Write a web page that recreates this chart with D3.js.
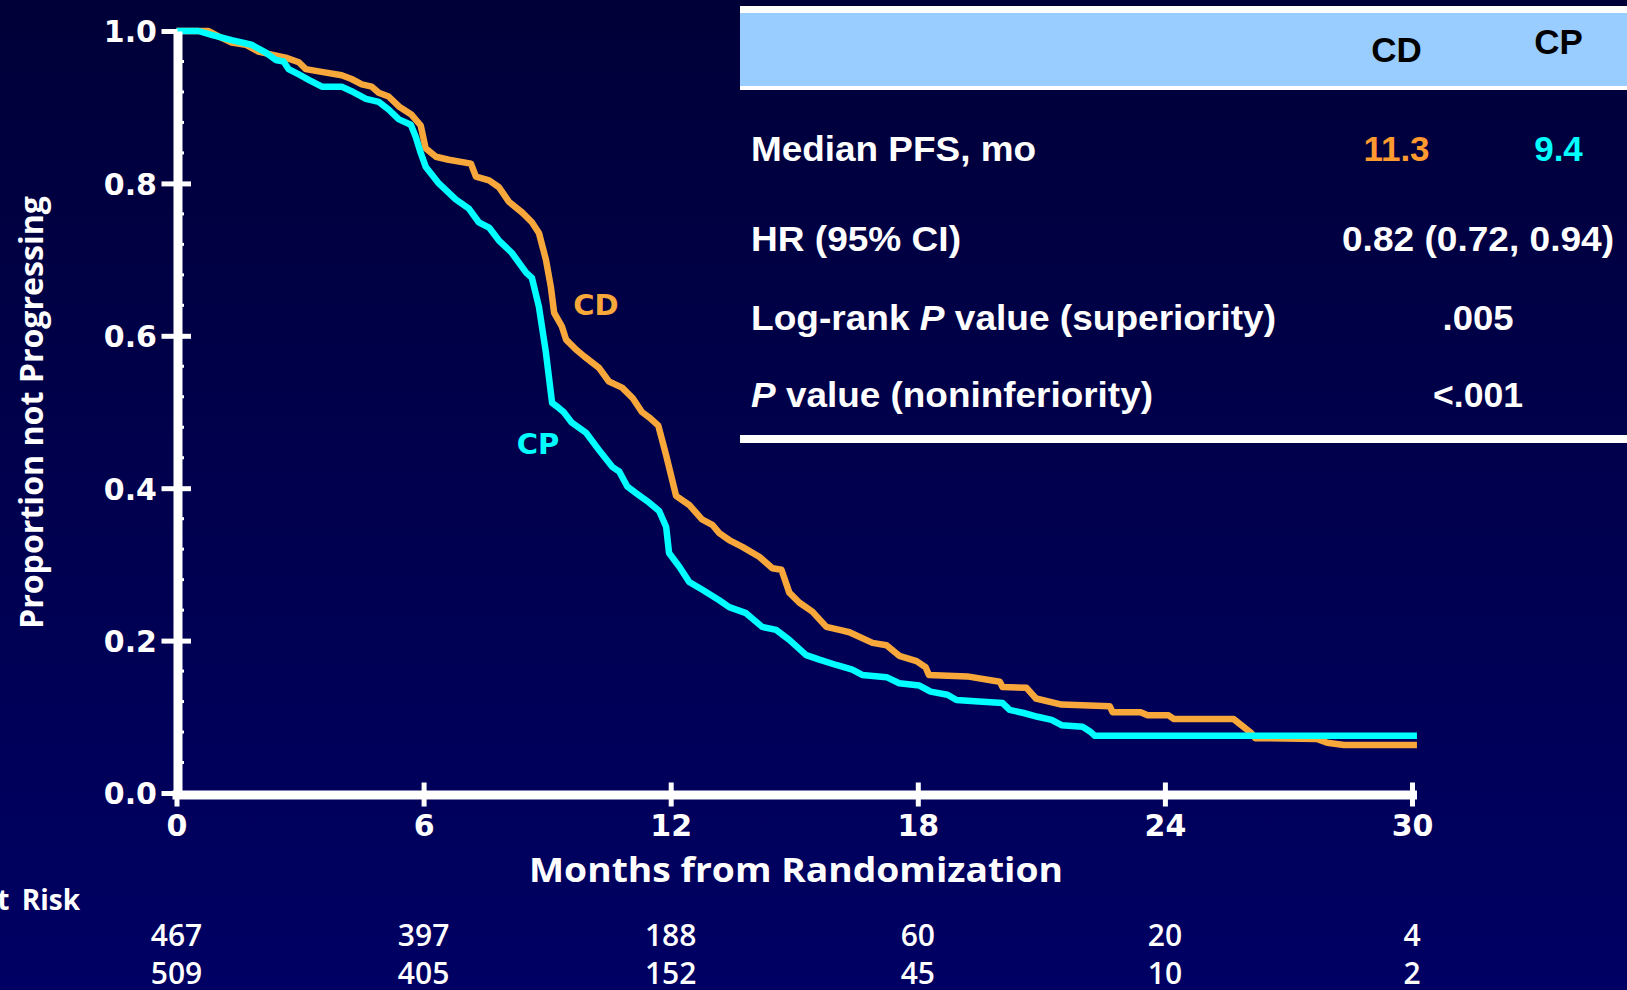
<!DOCTYPE html>
<html>
<head>
<meta charset="utf-8">
<script src="https://cdn.jsdelivr.net/npm/d3@7"></script>
<style>
  html, body { margin: 0; padding: 0; background: #00003c; }
  svg { display: block; }
</style>
</head>
<body>
<svg id="chart" width="1627" height="990"></svg>
<script>
// Progression-free survival (Kaplan–Meier), CD vs CP

const monthTicks = [0, 6, 12, 18, 24, 30];
const proportionTicks = [0, 0.2, 0.4, 0.6, 0.8, 1.0];

// [month, proportion not progressing]
const cdCurve = [
  [0, 1.0], [0.78, 1.0], [1.02, 0.993], [1.34, 0.985], [1.68, 0.982], [1.99, 0.973],
  [2.31, 0.969], [2.65, 0.965], [2.97, 0.959], [3.14, 0.950], [3.45, 0.947], [4.01, 0.942],
  [4.25, 0.937], [4.50, 0.930], [4.74, 0.927], [4.91, 0.919], [5.15, 0.914], [5.40, 0.901],
  [5.71, 0.890], [5.93, 0.876], [6.05, 0.846], [6.30, 0.835], [6.61, 0.831], [7.15, 0.826],
  [7.27, 0.809], [7.59, 0.804], [7.83, 0.795], [8.07, 0.776], [8.39, 0.762], [8.63, 0.749],
  [8.80, 0.735], [8.97, 0.700], [9.09, 0.664], [9.17, 0.630], [9.36, 0.612], [9.46, 0.595],
  [9.70, 0.582], [9.90, 0.573], [10.26, 0.558], [10.50, 0.540], [10.82, 0.532], [11.08, 0.518],
  [11.30, 0.500], [11.50, 0.492], [11.70, 0.482], [11.89, 0.443], [12.13, 0.390], [12.45, 0.378],
  [12.76, 0.359], [13.01, 0.352], [13.18, 0.341], [13.42, 0.332], [13.74, 0.323], [14.15, 0.310],
  [14.47, 0.295], [14.69, 0.293], [14.88, 0.263], [15.12, 0.250], [15.44, 0.238], [15.78, 0.218],
  [16.10, 0.214], [16.34, 0.211], [16.90, 0.197], [17.24, 0.194], [17.55, 0.180], [17.97, 0.173],
  [18.19, 0.165], [18.27, 0.155], [19.20, 0.153], [19.99, 0.146], [20.06, 0.139], [20.64, 0.138],
  [20.87, 0.124], [21.49, 0.116], [22.66, 0.114], [22.73, 0.106], [23.41, 0.106], [23.58, 0.102],
  [24.09, 0.102], [24.22, 0.097], [25.67, 0.097], [26.09, 0.079], [26.19, 0.072], [27.69, 0.071],
  [27.94, 0.066], [28.35, 0.063], [30.12, 0.063]
];

const cpCurve = [
  [0, 1.0], [0.53, 1.0], [0.85, 0.995], [1.34, 0.988], [1.82, 0.982], [2.16, 0.972],
  [2.41, 0.962], [2.60, 0.960], [2.72, 0.950], [2.97, 0.943], [3.21, 0.936], [3.53, 0.927],
  [4.01, 0.927], [4.25, 0.921], [4.60, 0.911], [4.91, 0.907], [5.15, 0.897], [5.40, 0.884],
  [5.69, 0.877], [5.81, 0.861], [5.93, 0.840], [6.05, 0.822], [6.37, 0.800], [6.78, 0.779],
  [7.10, 0.767], [7.34, 0.749], [7.59, 0.742], [7.83, 0.725], [8.14, 0.709], [8.49, 0.683],
  [8.63, 0.676], [8.80, 0.638], [8.97, 0.578], [9.12, 0.512], [9.29, 0.505], [9.40, 0.500],
  [9.60, 0.486], [9.94, 0.473], [10.26, 0.450], [10.58, 0.428], [10.75, 0.422], [10.95, 0.402],
  [11.20, 0.392], [11.48, 0.381], [11.72, 0.370], [11.89, 0.349], [11.96, 0.315], [12.21, 0.297],
  [12.45, 0.277], [12.76, 0.267], [13.18, 0.253], [13.42, 0.244], [13.83, 0.236], [14.22, 0.218],
  [14.56, 0.214], [14.88, 0.201], [15.29, 0.181], [15.61, 0.175], [16.02, 0.168], [16.41, 0.162],
  [16.65, 0.155], [17.24, 0.152], [17.55, 0.144], [18.04, 0.141], [18.31, 0.133], [18.72, 0.129],
  [18.94, 0.122], [19.48, 0.120], [20.06, 0.118], [20.23, 0.109], [20.57, 0.105], [20.91, 0.100],
  [21.25, 0.096], [21.49, 0.089], [22.00, 0.087], [22.20, 0.080], [22.30, 0.075], [30.12, 0.075]
];

// Numbers at risk at each month tick
const atRiskCD = [467, 397, 188, 60, 20, 4];
const atRiskCP = [509, 405, 152, 45, 10, 2];

// Summary table
const armNames = ["CD", "CP"];
const medianPFS = ["11.3", "9.4"];
const hazardRatio = "0.82 (0.72, 0.94)";
const pSuperiority = ".005";
const pNoninferiority = "<.001";
const statLabels = [
  [{ t: "Median PFS, mo" }],
  [{ t: "HR (95% CI)" }],
  [{ t: "Log-rank " }, { t: "P", it: true }, { t: " value (superiority)" }],
  [{ t: "P", it: true }, { t: " value (noninferiority)" }]
];

// ---------------------------------------------------------------------------
const W = 1627, H = 990;
const ORANGE = "#f8a83b", ORANGE_TEXT = "#ff9a30", CYAN = "#00ffff";
const TICK_FONT = "bold 30px 'DejaVu Sans', Verdana, sans-serif";
const HUMANIST = "'Open Sans', 'Noto Sans', sans-serif";
const TABLE_FONT = "'Liberation Sans', Arial, sans-serif";

const svg = d3.select("#chart");

const defs = svg.append("defs");
const bg = defs.append("linearGradient").attr("id", "bg")
  .attr("x1", 0).attr("y1", 0).attr("x2", 0).attr("y2", 1);
bg.append("stop").attr("offset", "0%").attr("stop-color", "#000038");
bg.append("stop").attr("offset", "100%").attr("stop-color", "#000064");
svg.append("rect").attr("width", W).attr("height", H).attr("fill", "url(#bg)");

const x = d3.scaleLinear().domain([0, 30]).range([176.5, 1412]);
const y = d3.scaleLinear().domain([0, 1]).range([793, 31]);

// ---- survival curves
const line = d3.line().x(d => x(d[0])).y(d => y(d[1]));
svg.append("path").datum(cdCurve).attr("d", line)
  .attr("fill", "none").attr("stroke", ORANGE).attr("stroke-width", 6.5)
  .attr("stroke-linejoin", "round");
svg.append("path").datum(cpCurve).attr("d", line)
  .attr("fill", "none").attr("stroke", CYAN).attr("stroke-width", 6.5)
  .attr("stroke-linejoin", "round");

// ---- y axis
const yAxis = svg.append("g").attr("transform", `translate(${x(0) + 1},0)`)
  .call(d3.axisLeft(y).tickValues(proportionTicks).tickFormat(d3.format(".1f")).tickSizeOuter(0));
yAxis.select(".domain").attr("stroke", "#fff").attr("stroke-width", 9);
yAxis.selectAll(".tick line").attr("stroke", "#fff").attr("stroke-width", 5)
  .attr("x1", d => d === 1 ? 0 : 13.5).attr("x2", -16);
yAxis.selectAll(".tick text").attr("x", -20.5).attr("dy", "0.36em")
  .attr("fill", "#fff").style("font", TICK_FONT);

// small intermediate marks on the right of the y axis
const minorY = d3.range(1, 25).map(i => i / 25).filter(v => Math.round(v * 25) % 5 !== 0);
svg.append("g").selectAll("line").data(minorY).join("line")
  .attr("x1", x(0) + 4).attr("x2", x(0) + 7.5)
  .attr("y1", d => y(d)).attr("y2", d => y(d))
  .attr("stroke", "#fff").attr("stroke-width", 3);

// ---- x axis
const xAxis = svg.append("g").attr("transform", `translate(0,${y(0) + 1.5})`)
  .call(d3.axisBottom(x).tickValues(monthTicks).tickFormat(d3.format("d")).tickSizeOuter(0));
xAxis.select(".domain").attr("stroke", "#fff").attr("stroke-width", 9).attr("stroke-linecap", "square");
xAxis.selectAll(".tick line").attr("stroke", "#fff").attr("stroke-width", 5)
  .attr("y1", -12).attr("y2", 12);
xAxis.selectAll(".tick text").attr("y", 41).attr("dy", null)
  .attr("fill", "#fff").style("font", TICK_FONT);

// ---- axis titles
svg.append("text")
  .attr("transform", "translate(43,412.5) rotate(-90)")
  .attr("text-anchor", "middle")
  .attr("textLength", 433).attr("lengthAdjust", "spacingAndGlyphs")
  .attr("fill", "#fff")
  .style("font", `bold 32px ${HUMANIST}`)
  .text("Proportion not Progressing");

svg.append("text")
  .attr("x", 796).attr("y", 882)
  .attr("text-anchor", "middle")
  .attr("textLength", 534).attr("lengthAdjust", "spacingAndGlyphs")
  .attr("fill", "#fff")
  .style("font", `bold 34.5px ${HUMANIST}`)
  .text("Months from Randomization");

// ---- curve labels
svg.append("text").attr("x", 596).attr("y", 314.5).attr("text-anchor", "middle")
  .attr("fill", ORANGE).style("font", "bold 29px 'DejaVu Sans', Verdana, sans-serif")
  .text(armNames[0]);
svg.append("text").attr("x", 538).attr("y", 453.5).attr("text-anchor", "middle")
  .attr("fill", CYAN).style("font", "bold 29px 'DejaVu Sans', Verdana, sans-serif")
  .text(armNames[1]);

// ---- numbers at risk
svg.append("text").attr("x", 80).attr("y", 910).attr("text-anchor", "end")
  .attr("fill", "#fff").style("font", `bold 28px ${HUMANIST}`).style("word-spacing", "5px")
  .text("No. at Risk");

[atRiskCD, atRiskCP].forEach((row, r) => {
  svg.append("g").selectAll("text").data(row).join("text")
    .attr("x", (d, i) => x(monthTicks[i]))
    .attr("y", r === 0 ? 946 : 984)
    .attr("text-anchor", "middle")
    .attr("fill", "#fff")
    .style("font", `600 30px ${HUMANIST}`)
    .text(d => d);
});

// ---- summary table
const tbl = svg.append("g");
tbl.append("rect").attr("x", 740).attr("y", 6).attr("width", W - 740).attr("height", 84).attr("fill", "#fff");
tbl.append("rect").attr("x", 740).attr("y", 13).attr("width", W - 740).attr("height", 73).attr("fill", "#99ccff");
tbl.append("rect").attr("x", 740).attr("y", 435).attr("width", W - 740).attr("height", 8).attr("fill", "#fff");

const colX = [1396.5, 1558.5];
const headerBase = [61.7, 54.3];
armNames.forEach((n, i) => {
  tbl.append("text").attr("x", colX[i]).attr("y", headerBase[i]).attr("text-anchor", "middle")
    .attr("fill", "#000").style("font", `bold 35px ${TABLE_FONT}`).text(n);
});

const rowBase = [160.7, 250.7, 330, 407.3];
const rowWidth = [285, 210, 525, 402];
statLabels.forEach((parts, i) => {
  const t = tbl.append("text").attr("x", 751).attr("y", rowBase[i])
    .attr("textLength", rowWidth[i]).attr("lengthAdjust", "spacingAndGlyphs")
    .attr("fill", "#fff").style("font", `bold 35px ${TABLE_FONT}`);
  parts.forEach(p => t.append("tspan").style("font-style", p.it ? "italic" : "normal").text(p.t));
});

medianPFS.forEach((v, i) => {
  tbl.append("text").attr("x", colX[i]).attr("y", rowBase[0]).attr("text-anchor", "middle")
    .attr("fill", i === 0 ? ORANGE_TEXT : CYAN)
    .style("font", `bold 35px ${TABLE_FONT}`).text(v);
});

const mergedCol = 1478;
[[hazardRatio, rowBase[1], 272], [pSuperiority, rowBase[2], 71], [pNoninferiority, rowBase[3], 90]]
  .forEach(([v, yy, w]) => {
    tbl.append("text").attr("x", mergedCol).attr("y", yy).attr("text-anchor", "middle")
      .attr("textLength", w).attr("lengthAdjust", "spacingAndGlyphs")
      .attr("fill", "#fff").style("font", `bold 35px ${TABLE_FONT}`).text(v);
  });
</script>
</body>
</html>
